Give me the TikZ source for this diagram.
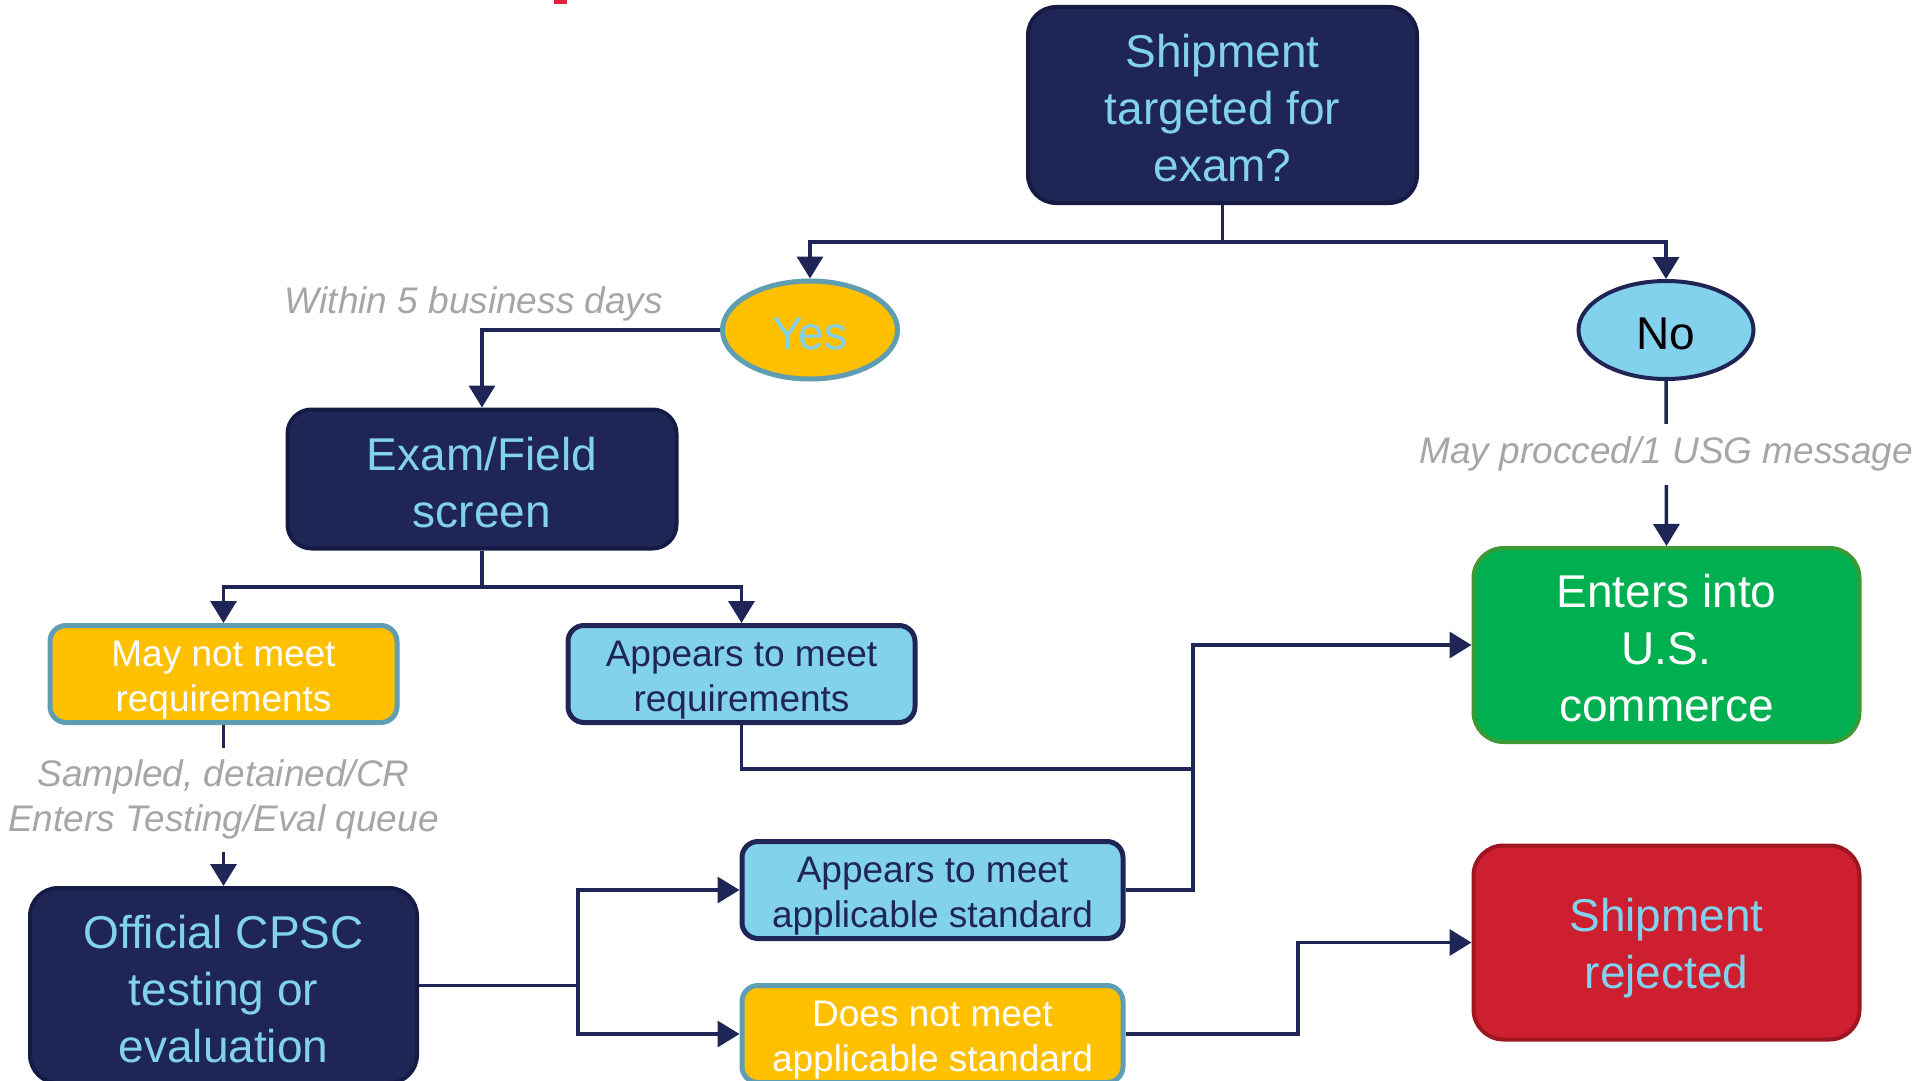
\documentclass[tikz,border=0pt]{standalone}
\usepackage{fontspec}
\setmainfont{Liberation Sans}
\usetikzlibrary{arrows.meta,shapes.geometric}
\definecolor{navy}{HTML}{1F2656}
\definecolor{navyedge}{HTML}{151B44}
\definecolor{sky}{HTML}{82D2EE}
\definecolor{amber}{HTML}{FFC000}
\definecolor{steel}{HTML}{5F9DB3}
\definecolor{leaf}{HTML}{00B050}
\definecolor{leafedge}{HTML}{3C9A34}
\definecolor{alarm}{HTML}{CD1F2F}
\definecolor{alarmedge}{HTML}{9E1622}
\definecolor{note}{HTML}{A6A6A6}
\definecolor{titlered}{HTML}{DD2338}
\newcommand{\largetxt}{\fontsize{46}{57}\selectfont}
\newcommand{\smalltxt}{\fontsize{37}{45}\selectfont}
\newcommand{\padtop}[1]{\rule{0pt}{#1}}
\begin{document}
\begin{tikzpicture}[x=1pt,y=-1pt,
	darkbox/.style={draw=navyedge, line width=4pt, fill=navy, text=sky, rounded corners=28pt, align=center, font=\largetxt, minimum width=389pt, inner sep=0pt},
	endbox/.style={line width=4pt, rounded corners=30pt, align=center, font=\largetxt, minimum width=386pt, minimum height=194pt, inner sep=0pt},
	ambox/.style={draw=steel, line width=5pt, fill=amber, text=white, rounded corners=16pt, align=center, font=\smalltxt, minimum width=347pt, minimum height=97pt, inner sep=0pt},
	skybox/.style={draw=navy, line width=5pt, fill=sky, text=navy, rounded corners=16pt, align=center, font=\smalltxt, minimum width=347pt, minimum height=97pt, inner sep=0pt},
	oval/.style={ellipse, minimum width=175pt, minimum height=98pt, inner sep=0pt, font=\largetxt, execute at begin node={\rule{0pt}{39pt}}},
	notelbl/.style={text=note, font=\smalltxt\itshape, align=center},
	gaplbl/.style={notelbl, fill=white, inner xsep=2pt},
	wire/.style={draw=navy, line width=3.5pt},
	conn/.style={wire, -{Triangle[length=22pt,width=26pt]}}]
	\useasboundingbox (0,0) rectangle (1923,1081);
	\fill[titlered] (554,0) rectangle (567,4);
	\node[darkbox, minimum height=196pt] (target) at (1222.5,105) {\padtop{40pt}Shipment\\targeted for\\exam?};
	\node[oval, fill=amber, draw=steel, line width=5pt, text=sky] (yes) at (810,330) {Yes};
	\node[oval, fill=sky, draw=navy, line width=4pt, text=black] (no) at (1666,330) {No};
	\node[darkbox, minimum height=139pt, rounded corners=24pt] (exam) at (482,479) {\padtop{40pt}Exam/Field\\screen};
	\node[ambox] (maynot) at (223.5,674) {\padtop{38pt}May not meet\\requirements};
	\node[skybox] (appreq) at (741.5,674) {\padtop{38pt}Appears to meet\\requirements};
	\node[darkbox, minimum width=387pt, minimum height=195pt] (cpsc) at (223.5,985.5) {\padtop{40pt}Official CPSC\\testing or\\evaluation};
	\node[skybox, minimum width=381pt] (appstd) at (932.5,890) {\padtop{38pt}Appears to meet\\applicable standard};
	\node[ambox, minimum width=381pt] (notstd) at (932.5,1034) {\padtop{38pt}Does not meet\\applicable standard};
	\node[endbox, fill=leaf, draw=leafedge, text=white] (enters) at (1666.5,645) {\padtop{40pt}Enters into\\U.S.\\commerce};
	\node[endbox, fill=alarm, draw=alarmedge, text=sky] (rejected) at (1666.5,942.5) {\padtop{45pt}Shipment\\rejected};
	\node[notelbl] (within) at (474,304) {Within 5 business days};
	% connectors
	\coordinate (topsplit) at (1222.5,242);
	\draw[conn] (target.south) -- (topsplit) -| (yes.north);
	\draw[conn] (topsplit) -| (no.north);
	\draw[conn] (yes.west) -| (exam.north);
	\coordinate (examsplit) at (482,587);
	\draw[conn] (exam.south) -- (examsplit) -| (maynot.north);
	\draw[conn] (examsplit) -| (appreq.north);
	\draw[conn] (maynot.south) -- (cpsc.north) node[pos=0.44, gaplbl, inner ysep=12pt, yshift=-4pt] {Sampled, detained/CR\\Enters Testing/Eval queue};
	\draw[conn] (no.south) -- (enters.north) node[pos=0.42, gaplbl, inner ysep=13pt, yshift=-4pt] {May procced/1 USG message};
	\coordinate (cpscsplit) at (578,985.5);
	\draw[wire] (cpsc.east) -- (cpscsplit);
	\draw[conn] (cpscsplit) |- (appstd.west);
	\draw[conn] (cpscsplit) |- (notstd.west);
	\coordinate (merge) at (1193,890);
	\coordinate (reqturn) at (741.5,769);
	\draw[wire] (appreq.south) -- (reqturn) -- (reqturn -| merge);
	\draw[conn] (appstd.east) -- (merge) |- (enters.west);
	\coordinate (rejturn) at (1298,1034);
	\draw[conn] (notstd.east) -- (rejturn) |- (rejected.west);
\end{tikzpicture}
\end{document}
